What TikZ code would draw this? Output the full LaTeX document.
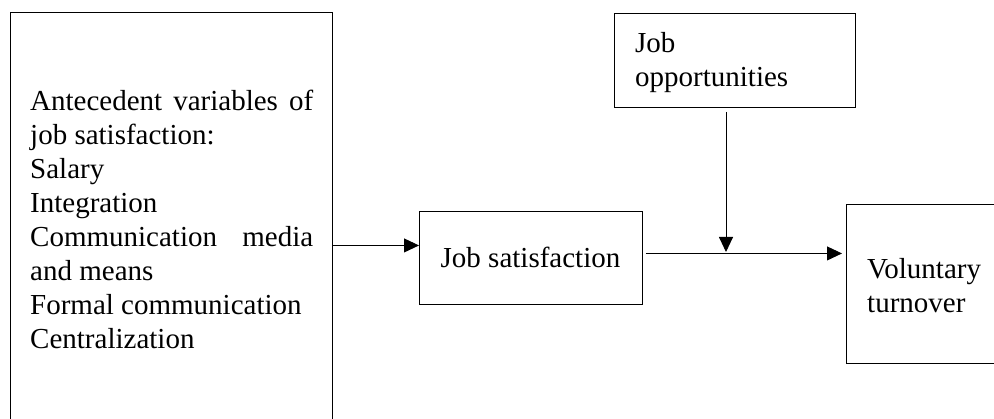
\documentclass[tikz,border=0pt]{standalone}
\usepackage{fontspec}
\setmainfont{Liberation Serif}
\usetikzlibrary{arrows.meta}

\tikzset{
  frame/.style={draw=black, line width=0.9pt, rectangle, inner sep=0pt, anchor=north west},
  label text/.style={inner sep=0pt, align=left, font=\fontsize{29}{34}\selectfont},
  link/.style={draw=black, line width=0.9pt, -{Triangle[length=15pt,width=14pt]}}
}

\begin{document}
\begin{tikzpicture}[x=1pt, y=-1pt]
  \useasboundingbox (0,0) rectangle (994,419);
  \clip (0,0) rectangle (994,419);

  % boxes
  \node[frame, minimum width=322pt, minimum height=430pt] (ante) at (10,12) {};
  \node[frame, minimum width=223pt, minimum height=93pt] (jobsat) at (419,211) {};
  \node[frame, minimum width=241pt, minimum height=94pt] (opp) at (614,13) {};
  \node[frame, minimum width=170pt, minimum height=159pt] (vol) at (846,204) {};

  % texts
  \node[label text, anchor=north west] (antetext) at (30,90)
    {\makebox[283pt][s]{Antecedent variables of}\\
     job satisfaction:\\
     Salary\\
     Integration\\
     \makebox[283pt][s]{Communication media}\\
     and means\\
     Formal communication\\
     Centralization};
  \node[label text, anchor=base] (jobsattext) at (530.5,268) {Job satisfaction};
  \node[label text, anchor=north west] (opptext) at (635,32) {Job\\opportunities};
  \node[label text, anchor=north west] (voltext) at (867,258) {Voluntary\\turnover};

  % connectors
  \coordinate (jsin) at ([yshift=12.5pt]jobsat.west);
  \coordinate (jsout) at ([yshift=4.5pt,xshift=3pt]jobsat.east);
  \coordinate (mod) at (726,253);
  \draw[link] (ante.east |- jsin) -- (jsin);
  \draw[link, shorten >=4pt] (jsout) -- (vol.west |- jsout);
  \draw[link, shorten <=4pt, shorten >=1pt] (mod |- opp.south) -- (mod);
\end{tikzpicture}
\end{document}
